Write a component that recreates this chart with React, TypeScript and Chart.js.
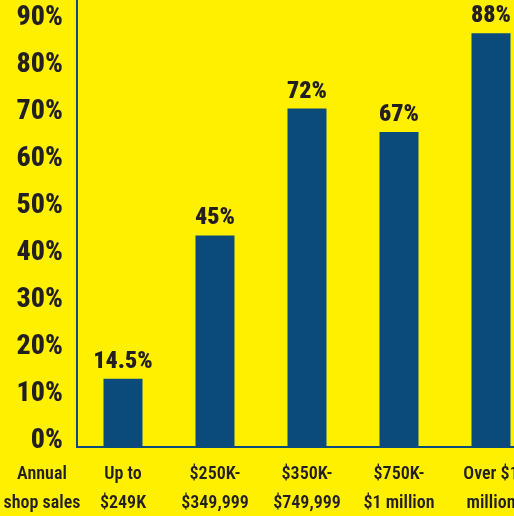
import React, { useEffect, useRef } from "react";
import { Chart, registerables } from "chart.js";

Chart.register(...registerables);

const categories: string[][] = [
  ["Up to", "$249K"],
  ["$250K-", "$349,999"],
  ["$350K-", "$749,999"],
  ["$750K-", "$1 million"],
  ["Over $1", "million"],
];
const values: number[] = [14.5, 45, 72, 67, 88];
const valueLabels: string[] = ["14.5%", "45%", "72%", "67%", "88%"];
const axisTitle: string[] = ["Annual", "shop sales"];

const YELLOW = "#FFF000";
const BLUE = "#0A4B7B";
const TEXT = "#231F20";
const FAMILY = "Roboto";

export default function App() {
  const ref = useRef<HTMLCanvasElement | null>(null);

  useEffect(() => {
    if (!ref.current) return;
    const labelsPlugin = {
      id: "valueLabels",
      afterDatasetsDraw(chart: any) {
        const ctx = chart.ctx;
        const meta = chart.getDatasetMeta(0);
        ctx.save();
        ctx.fillStyle = TEXT;
        ctx.font = `900 condensed 24px ${FAMILY}`;
        ctx.textAlign = "center";
        ctx.textBaseline = "alphabetic";
        meta.data.forEach((bar: any, i: number) => {
          ctx.fillText(valueLabels[i], bar.x, bar.y - 11);
        });
        const xs = chart.scales.x;
        ctx.font = `600 condensed 18px ${FAMILY}`;
        ctx.textBaseline = "middle";
        axisTitle.forEach((t, i) => {
          ctx.fillText(t, 42, xs.top + 27 + i * 29);
        });
        ctx.restore();
      },
    };
    const chart = new Chart(ref.current, {
      type: "bar",
      data: {
        labels: categories,
        datasets: [
          {
            data: values,
            backgroundColor: BLUE,
            barPercentage: 0.424,
            categoryPercentage: 1,
          },
        ],
      },
      options: {
        responsive: false,
        animation: false,
        layout: { padding: 0 },
        plugins: {
          legend: { display: false },
          tooltip: { enabled: false },
        },
        scales: {
          x: {
            grid: { display: false, drawTicks: false },
            border: { display: true, color: BLUE, width: 2 },
            ticks: {
              color: TEXT,
              font: { family: FAMILY, size: 18, weight: "600 condensed", lineHeight: 1.61 },
              padding: 13,
              maxRotation: 0,
              autoSkip: false,
            },
            afterFit(scale: any) {
              scale.height = 69;
            },
          },
          y: {
            min: 0,
            max: 95.1,
            grid: { display: false, drawTicks: false },
            border: { display: true, color: BLUE, width: 2 },
            ticks: {
              stepSize: 10,
              includeBounds: false,
              color: TEXT,
              padding: 14,
              labelOffset: -6,
              font: { family: FAMILY, size: 28, weight: "800 condensed" },
              callback: (v: any) => v + "%",
            },
            afterFit(scale: any) {
              scale.width = 77;
              scale.paddingTop = 0;
              scale.paddingBottom = 0;
            },
          },
        },
      },
      plugins: [labelsPlugin],
    });
    return () => chart.destroy();
  }, []);

  return (
    <div
      style={{
        position: "fixed",
        left: 0,
        top: 0,
        width: 514,
        height: 516,
        overflow: "hidden",
        background: YELLOW,
      }}
    >
      <canvas ref={ref} width={537} height={516} style={{ display: "block", width: 537, height: 516 }} />
    </div>
  );
}
